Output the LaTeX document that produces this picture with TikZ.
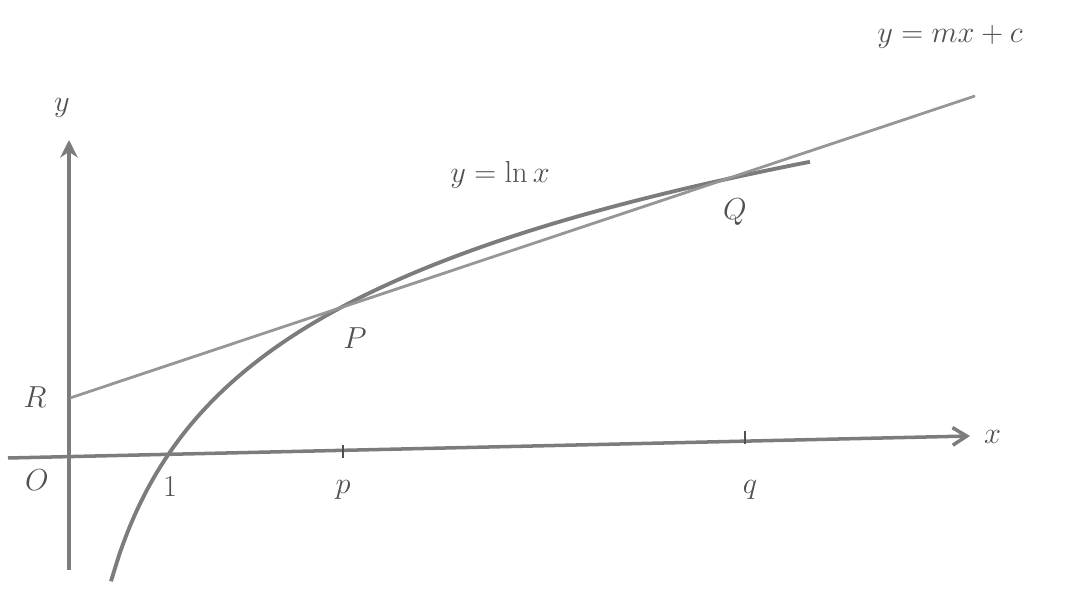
\documentclass[tikz,border=0pt]{standalone}
\usepackage{amsmath,amssymb}
\usetikzlibrary{arrows.meta,positioning,calc}
\definecolor{Pencil}{HTML}{7C7C7C}
\definecolor{Lead}{HTML}{505050}
\tikzset{
  axisline/.style={Pencil,line width=2pt},
  chordline/.style={Pencil!80,line width=1.6pt},
  lncurve/.style={Pencil,line width=2.2pt},
  lab/.style={Lead,font=\LARGE}
}

\begin{document}
\begin{tikzpicture}
\useasboundingbox (0,0) rectangle (21.38,11.92);
% axes
\coordinate (xl) at (0.16,2.76); \coordinate (xr) at (19.4,3.2);
\coordinate (yb) at (1.38,0.52); \coordinate (yt) at (1.38,9.12);
\draw[axisline,-{Straight Barb[length=8pt,width=10pt]}] (xl) -- (xr);
\draw[axisline,-{Stealth[length=10pt,width=10pt]}] (yb) -- (yt);
\node[lab] (xlab) at (19.85,3.18) {$x$};
\node[lab] (ylab) at (1.24,9.76) {$y$};
\node[lab] (olab) at (0.74,2.32) {$O$};
% ticks at p and q
\coordinate (tp) at (6.86,2.88); \coordinate (tq) at (14.9,3.16);
\foreach \t in {tp,tq}{\draw[Lead,line width=1.6pt] ($(\t)+(0,.13)$) -- ($(\t)+(0,-.13)$);}
\node[lab] (one) at (3.4,2.18) {$1$};
\node[lab] (plab) at (6.86,2.12) {$p$};
\node[lab] (qlab) at (15.0,2.12) {$q$};
% y = ln x
\draw[lncurve] plot[domain=0.41:7.4,samples=80,smooth] ({1.4+2*\x},{2.88+2.9*ln(\x)});
\node[lab] (lnlab) at (10.0,8.42) {$y=\ln x$};
% the line through R, P and Q
\coordinate (R) at (1.4,3.96); \coordinate (L) at (19.5,10.0);
\draw[chordline] (R) -- (L);
\node[lab] (rlab) at (0.7,3.98) {$R$};
\node[lab] (Plab) at (7.1,5.16) {$P$};
\node[lab] (Qlab) at (14.7,7.68) {$Q$};
\node[lab] (mxlab) at (19.0,11.18) {$y=mx+c$};
\end{tikzpicture}
\end{document}
